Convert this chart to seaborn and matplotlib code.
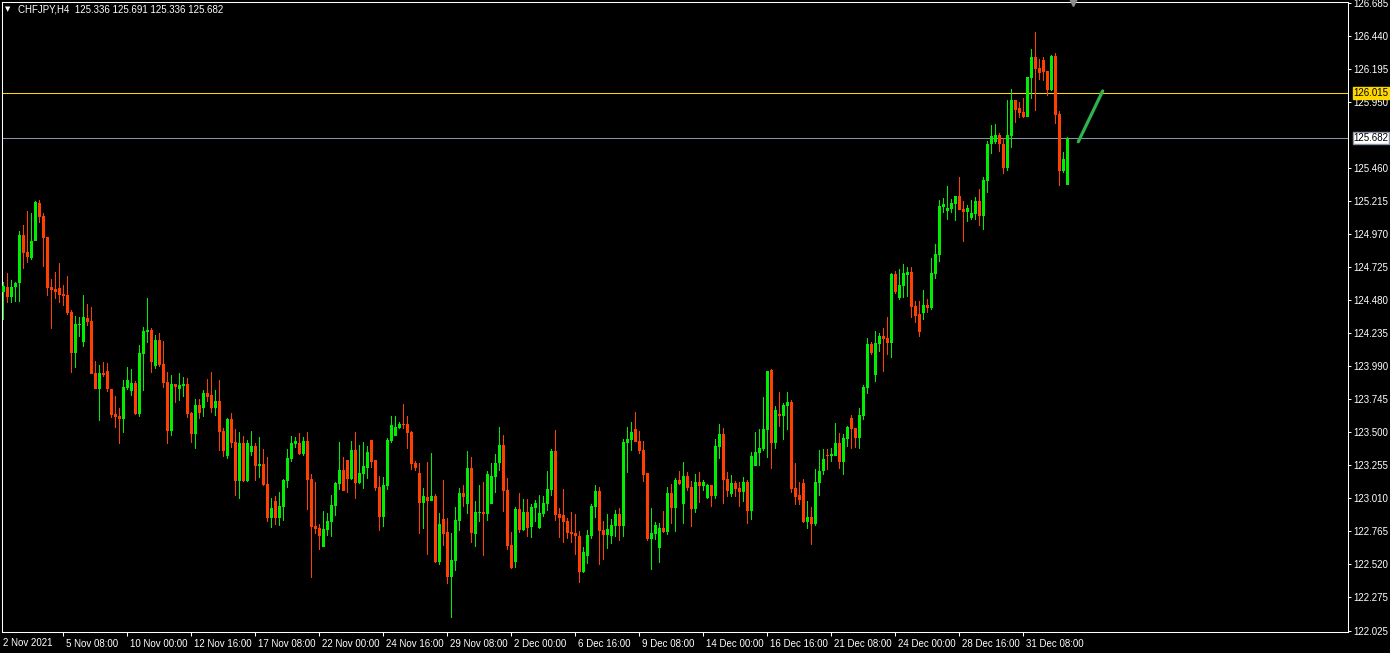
import numpy as np
import pandas as pd
import matplotlib
matplotlib.use("Agg")
import matplotlib.pyplot as plt
import matplotlib.transforms as mtransforms
import seaborn as sns

# ---------------- data (CHFJPY, H4) ----------------
opens = [
    124.542, 124.574, 124.500, 124.574, 124.604, 124.963, 124.836, 124.794, 124.920, 125.198,
    125.104, 124.945, 124.574, 124.562, 124.567, 124.524, 124.515, 124.388, 124.089, 124.297,
    124.171, 124.346, 124.324, 123.938, 123.822, 123.938, 123.953, 123.819, 123.634, 123.619,
    123.599, 123.824, 123.807, 123.864, 123.634, 124.082, 124.242, 124.257, 123.993, 124.183,
    124.005, 123.871, 123.510, 123.856, 123.822, 123.842, 123.856, 123.641, 123.488, 123.700,
    123.676, 123.790, 123.775, 123.681, 123.730, 123.508, 123.324, 123.597, 123.426, 123.139,
    123.418, 123.139, 123.352, 123.396, 123.250, 123.263, 123.114, 122.864, 122.988, 122.864,
    122.946, 123.139, 123.302, 123.413, 123.418, 123.339, 123.433, 123.151, 122.802, 122.787,
    122.649, 122.775, 122.834, 122.953, 123.117, 123.218, 123.292, 123.151, 123.366, 123.124,
    123.191, 123.235, 123.441, 123.292, 123.092, 122.871, 123.102, 123.436, 123.473, 123.532,
    123.562, 123.562, 123.500, 123.270, 123.196, 122.975, 123.017, 122.990, 123.025, 122.535,
    122.854, 122.758, 122.426, 122.545, 122.842, 123.047, 122.966, 123.233, 122.745, 122.901,
    122.906, 122.894, 122.966, 123.166, 123.270, 123.404, 123.069, 122.661, 122.537, 122.928,
    122.775, 122.906, 122.797, 122.936, 122.790, 122.894, 122.968, 123.072, 123.359, 122.891,
    122.884, 122.839, 122.758, 122.750, 122.730, 122.463, 122.582, 122.730, 122.946, 123.062,
    122.772, 122.738, 122.728, 122.802, 122.891, 122.802, 123.418, 123.443, 123.522, 123.433,
    123.366, 123.196, 122.706, 122.745, 122.641, 122.787, 122.760, 123.047, 122.938, 123.144,
    122.968, 123.173, 123.092, 122.928, 123.129, 123.102, 123.012, 123.107, 123.027, 123.391,
    123.485, 123.151, 123.042, 123.121, 123.084, 123.057, 123.129, 122.916, 123.250, 123.347,
    123.376, 123.517, 123.960, 123.421, 123.634, 123.621, 123.696, 123.723, 123.084, 123.032,
    123.121, 122.834, 122.869, 122.819, 123.124, 123.210, 123.332, 123.324, 123.324, 123.418,
    123.280, 123.450, 123.604, 123.530, 123.458, 123.621, 123.829, 124.153, 123.926, 124.156,
    124.213, 124.198, 124.163, 124.673, 124.497, 124.587, 124.668, 124.688, 124.435, 124.379,
    124.386, 124.443, 124.423, 124.676, 124.817, 125.173, 125.143, 125.158, 125.195, 125.252,
    125.156, 125.136, 125.091, 125.121, 125.215, 125.106, 125.363, 125.636, 125.650, 125.705,
    125.636, 125.462, 125.700, 125.965, 125.905, 125.876, 125.841, 126.131, 126.284, 126.202,
    126.262, 126.180, 126.041, 126.291, 125.861, 125.440, 125.336,
]
highs = [
    124.616, 124.678, 124.628, 124.614, 124.992, 125.037, 125.141, 125.128, 125.217, 125.222,
    125.123, 124.945, 124.636, 124.688, 124.752, 124.591, 124.658, 124.406, 124.361, 124.356,
    124.517, 124.450, 124.428, 124.027, 123.997, 124.017, 124.012, 123.819, 123.767, 123.678,
    123.886, 123.983, 123.968, 123.879, 124.146, 124.280, 124.495, 124.272, 124.220, 124.235,
    124.176, 123.945, 123.923, 123.856, 123.938, 123.908, 123.901, 123.648, 123.745, 123.745,
    123.812, 123.893, 123.946, 123.812, 123.886, 123.527, 123.604, 123.641, 123.522, 123.500,
    123.470, 123.441, 123.508, 123.416, 123.463, 123.374, 123.314, 123.010, 123.025, 123.055,
    123.154, 123.376, 123.470, 123.463, 123.493, 123.463, 123.500, 123.188, 123.129, 122.817,
    122.914, 122.899, 123.032, 123.129, 123.426, 123.315, 123.292, 123.433, 123.500, 123.404,
    123.426, 123.396, 123.441, 123.292, 123.173, 123.166, 123.456, 123.619, 123.619, 123.574,
    123.708, 123.619, 123.508, 123.285, 123.270, 123.084, 123.277, 123.344, 123.040, 122.899,
    123.144, 122.862, 122.750, 122.943, 123.084, 123.107, 123.359, 123.315, 122.988, 123.107,
    123.129, 123.210, 123.270, 123.337, 123.537, 123.478, 123.159, 122.758, 122.943, 123.047,
    123.003, 123.003, 122.966, 122.995, 123.032, 123.025, 123.211, 123.374, 123.515, 122.936,
    123.077, 122.862, 122.906, 122.891, 122.765, 122.646, 122.772, 122.966, 123.107, 123.092,
    122.839, 122.891, 122.854, 122.921, 122.936, 123.448, 123.537, 123.574, 123.649, 123.508,
    123.433, 123.196, 122.936, 122.832, 122.824, 122.913, 123.092, 123.114, 123.159, 123.210,
    123.277, 123.203, 123.136, 123.188, 123.203, 123.146, 123.114, 123.107, 123.448, 123.560,
    123.530, 123.203, 123.181, 123.136, 123.129, 123.166, 123.144, 123.352, 123.500, 123.522,
    123.760, 123.953, 123.968, 123.693, 123.797, 123.715, 123.797, 123.738, 123.270, 123.129,
    123.151, 122.988, 122.943, 123.225, 123.366, 123.374, 123.374, 123.381, 123.567, 123.493,
    123.485, 123.545, 123.626, 123.530, 123.678, 123.849, 124.198, 124.168, 124.250, 124.235,
    124.272, 124.354, 124.681, 124.695, 124.710, 124.747, 124.725, 124.725, 124.473, 124.473,
    124.554, 124.487, 124.792, 124.896, 125.222, 125.237, 125.326, 125.230, 125.252, 125.393,
    125.215, 125.185, 125.222, 125.245, 125.304, 125.393, 125.660, 125.779, 125.787, 125.720,
    125.680, 125.965, 126.046, 125.965, 125.950, 125.980, 126.136, 126.344, 126.470, 126.269,
    126.284, 126.180, 126.299, 126.314, 125.883, 125.581, 125.691,
]
lows = [
    124.331, 124.460, 124.460, 124.468, 124.468, 124.713, 124.752, 124.777, 124.920, 125.054,
    124.727, 124.510, 124.267, 124.487, 124.455, 124.438, 124.368, 123.940, 123.977, 124.208,
    124.134, 124.289, 123.928, 123.822, 123.584, 123.911, 123.799, 123.606, 123.532, 123.411,
    123.495, 123.812, 123.767, 123.626, 123.614, 123.807, 124.158, 123.941, 123.965, 123.980,
    123.829, 123.411, 123.473, 123.718, 123.733, 123.762, 123.604, 123.421, 123.376, 123.599,
    123.614, 123.725, 123.644, 123.619, 123.362, 123.317, 123.300, 123.384, 123.027, 123.005,
    123.129, 123.129, 123.322, 123.139, 123.161, 123.099, 122.832, 122.790, 122.812, 122.805,
    122.842, 123.087, 123.280, 123.384, 123.332, 123.322, 122.923, 122.419, 122.745, 122.626,
    122.649, 122.730, 122.723, 122.879, 123.069, 123.065, 123.050, 123.144, 123.005, 123.117,
    123.079, 123.154, 123.235, 123.062, 122.768, 122.797, 123.072, 123.421, 123.473, 123.525,
    123.525, 123.376, 123.220, 123.213, 122.745, 122.782, 122.589, 122.990, 122.530, 122.515,
    122.656, 122.374, 122.122, 122.471, 122.768, 122.946, 122.894, 122.678, 122.649, 122.834,
    122.582, 122.842, 122.966, 123.050, 123.210, 122.909, 122.626, 122.485, 122.493, 122.753,
    122.767, 122.723, 122.716, 122.834, 122.782, 122.871, 122.916, 123.025, 122.842, 122.716,
    122.678, 122.708, 122.678, 122.589, 122.381, 122.456, 122.523, 122.708, 122.864, 122.515,
    122.552, 122.634, 122.668, 122.721, 122.693, 122.721, 123.196, 123.359, 123.426, 123.337,
    123.129, 122.693, 122.476, 122.698, 122.530, 122.753, 122.735, 122.817, 122.760, 123.107,
    122.817, 123.065, 122.797, 122.901, 122.975, 123.065, 123.002, 122.946, 123.005, 123.302,
    122.968, 123.020, 123.020, 123.020, 122.946, 122.983, 122.819, 122.849, 123.250, 123.250,
    123.362, 123.310, 123.228, 123.376, 123.540, 123.443, 123.517, 123.050, 122.960, 122.960,
    122.827, 122.782, 122.663, 122.805, 123.027, 123.183, 123.218, 123.280, 123.324, 123.228,
    123.183, 123.391, 123.376, 123.384, 123.376, 123.592, 123.785, 124.074, 123.874, 124.096,
    123.948, 124.074, 124.052, 124.527, 124.483, 124.497, 124.505, 124.349, 124.312, 124.208,
    124.334, 124.386, 124.408, 124.638, 124.765, 125.128, 125.076, 125.128, 125.069, 125.151,
    124.913, 125.062, 125.076, 125.076, 125.032, 125.002, 125.275, 125.566, 125.636, 125.581,
    125.418, 125.440, 125.611, 125.797, 125.834, 125.834, 125.841, 125.975, 125.886, 126.116,
    126.108, 125.997, 126.034, 125.789, 125.329, 125.425, 125.336,
]
closes = [
    124.584, 124.500, 124.574, 124.604, 124.963, 124.831, 124.802, 124.918, 125.208, 125.099,
    124.943, 124.571, 124.557, 124.542, 124.520, 124.512, 124.383, 124.089, 124.302, 124.302,
    124.354, 124.319, 123.933, 123.822, 123.938, 123.923, 123.817, 123.629, 123.614, 123.599,
    123.834, 123.886, 123.864, 123.631, 124.087, 124.250, 124.257, 124.022, 124.183, 124.000,
    123.866, 123.510, 123.856, 123.837, 123.846, 123.856, 123.636, 123.488, 123.700, 123.644,
    123.790, 123.762, 123.681, 123.730, 123.503, 123.362, 123.597, 123.421, 123.139, 123.418,
    123.136, 123.418, 123.396, 123.250, 123.263, 123.107, 122.864, 122.938, 122.864, 122.953,
    123.146, 123.310, 123.418, 123.433, 123.339, 123.433, 123.146, 122.797, 122.782, 122.730,
    122.780, 122.839, 122.958, 123.121, 123.218, 123.065, 123.151, 123.366, 123.124, 123.196,
    123.248, 123.352, 123.280, 123.087, 122.871, 123.107, 123.441, 123.552, 123.537, 123.562,
    123.555, 123.495, 123.265, 123.230, 122.975, 123.025, 122.990, 123.025, 122.535, 122.817,
    122.745, 122.426, 122.550, 122.847, 123.047, 123.020, 123.233, 122.753, 122.906, 122.906,
    122.894, 123.188, 123.173, 123.270, 123.404, 123.065, 122.656, 122.493, 122.928, 122.775,
    122.906, 122.790, 122.943, 122.973, 122.899, 122.973, 123.077, 123.359, 122.886, 122.864,
    122.834, 122.753, 122.745, 122.730, 122.463, 122.609, 122.735, 122.951, 123.062, 122.767,
    122.738, 122.780, 122.810, 122.891, 122.802, 123.426, 123.448, 123.500, 123.426, 123.359,
    123.181, 122.706, 122.750, 122.810, 122.787, 122.760, 123.047, 122.938, 123.144, 123.114,
    123.173, 123.087, 122.928, 123.129, 123.102, 123.129, 123.107, 123.027, 123.396, 123.485,
    123.146, 123.065, 123.121, 123.079, 123.057, 123.129, 122.916, 123.322, 123.352, 123.381,
    123.522, 123.953, 123.421, 123.663, 123.621, 123.701, 123.723, 123.079, 123.020, 122.998,
    122.834, 122.869, 122.819, 123.129, 123.210, 123.300, 123.324, 123.337, 123.418, 123.280,
    123.455, 123.537, 123.522, 123.458, 123.626, 123.834, 124.153, 124.089, 124.161, 124.213,
    124.193, 124.163, 124.673, 124.542, 124.591, 124.681, 124.688, 124.430, 124.364, 124.245,
    124.443, 124.423, 124.680, 124.822, 125.178, 125.193, 125.163, 125.200, 125.252, 125.151,
    125.136, 125.163, 125.126, 125.215, 125.106, 125.371, 125.635, 125.697, 125.705, 125.636,
    125.462, 125.705, 125.965, 125.893, 125.871, 125.841, 126.136, 126.284, 126.198, 126.168,
    126.175, 126.041, 126.291, 125.856, 125.440, 125.529, 125.682,
]

price_ticks = [126.685, 126.440, 126.195, 125.950, 125.460, 125.215, 124.970, 124.725,
               124.480, 124.235, 123.990, 123.745, 123.500, 123.255, 123.010, 122.765,
               122.520, 122.275, 122.025]
date_tick_bars = [15, 31, 47, 63, 79, 95, 111, 127, 143, 159, 175, 191, 207, 223, 239, 255]
date_tick_labels = ["5 Nov 08:00", "10 Nov 00:00", "12 Nov 16:00", "17 Nov 08:00",
                    "22 Nov 00:00", "24 Nov 16:00", "29 Nov 08:00", "2 Dec 00:00",
                    "6 Dec 16:00", "9 Dec 08:00", "14 Dec 00:00", "16 Dec 16:00",
                    "21 Dec 08:00", "24 Dec 00:00", "28 Dec 16:00", "31 Dec 08:00"]
first_date_label = "2 Nov 2021"
symbol = "CHFJPY,H4"
ask_line = 126.015
bid_line = 125.682
forecast_bars = [268.75, 274.85]
forecast_prices = [125.655, 126.032]

# ---------------- style ----------------
sns.set_theme(style="dark", rc={
    "axes.facecolor": "black",
    "figure.facecolor": "black",
    "axes.edgecolor": "white",
    "axes.grid": False,
    "text.color": "white",
    "xtick.color": "white",
    "ytick.color": "white",
})
plt.rcParams["font.family"] = ["Liberation Sans", "DejaVu Sans"]

UP = "#00EE00"
DOWN = "#FF4000"
FS = 7

W, H = 1390, 653
fig = plt.figure(figsize=(W / 100, H / 100), dpi=100, facecolor="black")
left_px, right_px, top_px, bottom_px = 2.0, 1347.5, 1.5, 632.0
ax = fig.add_axes([left_px / W, 1 - bottom_px / H,
                   (right_px - left_px) / W, (bottom_px - top_px) / H])
ax.set_facecolor("black")

df = pd.DataFrame({"open": opens, "high": highs, "low": lows, "close": closes})
df["bar"] = np.arange(len(df))
df["up"] = df["close"] >= df["open"]
df["color"] = np.where(df["up"], UP, DOWN)

px_per_price = (bottom_px - top_px) / (126.696 - 122.015)
min_h = 1.0 / px_per_price
body_low = np.minimum(df["open"], df["close"])
body_h = np.maximum((df["close"] - df["open"]).abs(), min_h)

# wicks (1 px wide) and bodies (3 px wide)
ax.bar(df["bar"], df["high"] - df["low"], bottom=df["low"], width=0.25,
       color=df["color"], linewidth=0, antialiased=False, zorder=2)
ax.bar(df["bar"], body_h, bottom=body_low, width=0.75, color=df["color"],
       linewidth=0, antialiased=False, zorder=3)

# horizontal price lines
ax.axhline(ask_line, color="#FFD700", linewidth=0.75, zorder=1)
ax.axhline(bid_line, color="#8893A6", linewidth=0.75, zorder=1)

# forecast line
sns.lineplot(x=forecast_bars, y=forecast_prices, ax=ax, color="#2EB34E",
             linewidth=2.3, zorder=4)

ax.set_xlim(-0.325, 336.05)
ax.set_ylim(122.015, 126.696)

for sp in ax.spines.values():
    sp.set_color("white")
    sp.set_linewidth(0.75)

# y axis on the right
ax.yaxis.set_ticks_position("right")
ax.set_yticks(price_ticks)
ax.set_yticklabels([f"{p:.3f}" for p in price_ticks])
ax.tick_params(axis="y", which="both", left=False, right=True, labelleft=False,
               labelright=True, length=2.5, width=0.75, direction="out", pad=1.6,
               colors="white", labelsize=FS)

# x axis date labels
ax.set_xticks(date_tick_bars)
ax.set_xticklabels(date_tick_labels)
ax.tick_params(axis="x", which="both", bottom=True, top=False, length=3, width=0.75,
               direction="out", pad=2.0, colors="white", labelsize=FS)
offset = mtransforms.ScaledTranslation(2.5 / 100, 0, fig.dpi_scale_trans)
for lbl in ax.get_xticklabels():
    lbl.set_horizontalalignment("left")
    lbl.set_transform(lbl.get_transform() + offset)

fig.text(3 / W, 1 - 643 / H, first_date_label, ha="left", va="center",
         color="white", fontsize=FS)

# price tags
ax.annotate(f"{ask_line:.3f}", xy=(1, ask_line), xycoords=("axes fraction", "data"),
            xytext=(4.2, 0), textcoords="offset points", ha="left", va="center",
            color="black", fontsize=FS, annotation_clip=False, zorder=10,
            bbox=dict(boxstyle="square,pad=0.08", fc="#FFD700", ec="#FFD700"))
ax.annotate(f"{bid_line:.3f}", xy=(1, bid_line), xycoords=("axes fraction", "data"),
            xytext=(4.2, 0), textcoords="offset points", ha="left", va="center",
            color="black", fontsize=FS, annotation_clip=False, zorder=10,
            bbox=dict(boxstyle="square,pad=0.08", fc="white", ec="#8893A6"))

# chart shift marker
ax.plot([len(df) + 0.4], [126.696], marker="v", markersize=5.5, color="#8C8C8C",
        clip_on=False, zorder=6, linestyle="none")

# header
last = df.iloc[-1]
header = (f"{symbol}  {last['open']:.3f} {last['high']:.3f} "
          f"{last['low']:.3f} {last['close']:.3f}")
fig.text(5 / W, 1 - 9.5 / H, "\u25BC", ha="left", va="center", color="white",
         fontsize=5, family=["DejaVu Sans"])
fig.text(18 / W, 1 - 9 / H, header, ha="left", va="center", color="white", fontsize=FS)

fig.savefig("out.png", dpi=100, facecolor="black")
